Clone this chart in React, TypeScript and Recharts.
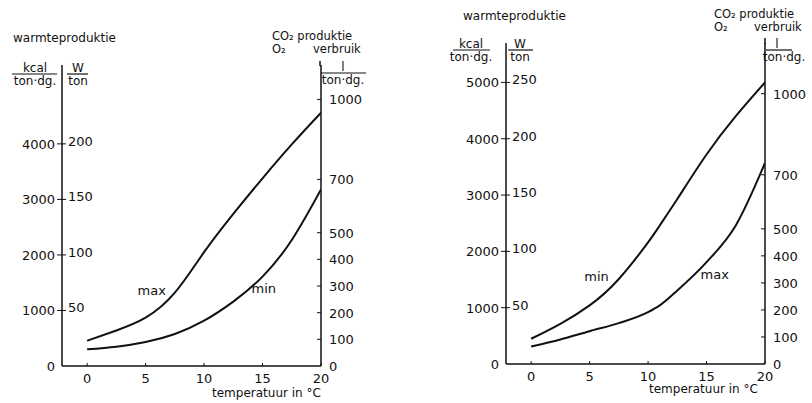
import React from 'react';
import { LineChart, Line, XAxis, YAxis } from 'recharts';

// temperatuur in °C
const tempsLeft = [0, 2.5, 5, 7.5, 10, 12.5, 15, 17.5, 20];
const tempsRight = [0, 2.5, 5, 7.5, 10, 11, 12.5, 15, 17.5, 20];

// warmteproduktie in kcal / ton·dg.
const leftMax = [455, 640, 870, 1320, 2050, 2740, 3380, 3990, 4560];
const leftMin = [300, 348, 432, 577, 817, 1160, 1610, 2270, 3180];
const rightMin = [448, 714, 1040, 1510, 2160, 2460, 2930, 3720, 4400, 5000];
const rightMax = [311, 435, 583, 725, 920, 1040, 1305, 1808, 2460, 3570];

const tempTicks = [0, 5, 10, 15, 20];
const kcalTicksLeft = [0, 1000, 2000, 3000, 4000];
const kcalTicksRight = [0, 1000, 2000, 3000, 4000, 5000];
const literTicks = [0, 100, 200, 300, 400, 500, 700, 1000];

const KCAL_PER_W = 20; // 1 W/ton ~ 20 kcal/ton·dg.
const KCAL_PER_L = 4.8; // 1 l O2 ~ 4.8 kcal

const INK = '#111';
const FONT = '"DejaVu Sans", sans-serif';

const leftData = tempsLeft.map((t, i) => ({ t, hi: leftMax[i], lo: leftMin[i] }));
const rightData = tempsRight.map((t, i) => ({ t, hi: rightMin[i], lo: rightMax[i] }));

const XTick = ({ x, y, payload }: any) => (
  <g>
    <line x1={x} x2={x} y1={y} y2={y - 3} stroke={INK} strokeWidth={1} />
    <text x={x} y={y + 16.5} textAnchor="middle" fontSize={13} fontFamily={FONT} fill={INK}>
      {payload.value}
    </text>
  </g>
);

const KcalTick = ({ x, y, payload }: any) => {
  const v = payload.value;
  return (
    <g>
      {v > 0 && <line x1={x - 5} x2={x + 4} y1={y} y2={y} stroke={INK} strokeWidth={1} />}
      <text x={x - 7} y={y + 5} textAnchor="end" fontSize={13} fontFamily={FONT} fill={INK}>
        {v}
      </text>
      {v > 0 && (
        <text x={x + 6} y={y + 2} textAnchor="start" fontSize={13} fontFamily={FONT} fill={INK}>
          {v / KCAL_PER_W}
        </text>
      )}
    </g>
  );
};

const LiterTick = ({ x, y, payload }: any) => (
  <g>
    {payload.value > 0 && <line x1={x - 4} x2={x} y1={y} y2={y} stroke={INK} strokeWidth={1} />}
    <text x={x + 8} y={y + 5} textAnchor="start" fontSize={13} fontFamily={FONT} fill={INK}>
      {payload.value}
    </text>
  </g>
);

const curveLabel = (idx: number, text: string, dx: number, dy: number, anchor: string) =>
  (p: any) =>
    p.index === idx ? (
      <text
        key={text + idx}
        x={p.x + dx}
        y={p.y + dy}
        textAnchor={anchor}
        fontSize={13}
        fontFamily={FONT}
        fill={INK}
      >
        {text}
      </text>
    ) : null;

type PanelProps = {
  data: any[];
  kcalMax: number;
  kcalTicks: number[];
  margin: { top: number; right: number; bottom: number; left: number };
  hiLabel: any;
  loLabel: any;
  loCurve: 'natural' | 'monotone';
};

// axes are 1px wide/high, margins are trimmed by that pixel
const Panel = ({ data, kcalMax, kcalTicks, margin, hiLabel, loLabel, loCurve }: PanelProps) => (
  <LineChart
    width={406}
    height={403}
    data={data}
    margin={{ top: margin.top, right: margin.right - 1, bottom: margin.bottom - 1, left: margin.left - 1 }}
  >
    <XAxis
      dataKey="t"
      type="number"
      domain={[-2.15, 20]}
      allowDataOverflow
      ticks={tempTicks}
      height={1}
      tickSize={0}
      tickMargin={0}
      tickLine={false}
      tick={<XTick />}
      axisLine={{ stroke: INK, strokeWidth: 1.5 }}
    />
    <YAxis
      yAxisId="k"
      orientation="left"
      type="number"
      domain={[0, kcalMax]}
      allowDataOverflow
      ticks={kcalTicks}
      width={1}
      tickSize={0}
      tickMargin={0}
      tickLine={false}
      tick={<KcalTick />}
      axisLine={{ stroke: INK, strokeWidth: 1.5 }}
    />
    <YAxis
      yAxisId="l"
      orientation="right"
      type="number"
      domain={[0, kcalMax / KCAL_PER_L]}
      allowDataOverflow
      ticks={literTicks}
      width={1}
      tickSize={0}
      tickMargin={0}
      tickLine={false}
      tick={<LiterTick />}
      axisLine={{ stroke: INK, strokeWidth: 1.5 }}
    />
    <Line
      yAxisId="k"
      type="natural"
      dataKey="hi"
      stroke={INK}
      strokeWidth={2}
      dot={false}
      isAnimationActive={false}
      label={hiLabel}
    />
    <Line
      yAxisId="k"
      type={loCurve}
      dataKey="lo"
      stroke={INK}
      strokeWidth={2}
      dot={false}
      isAnimationActive={false}
      label={loLabel}
    />
  </LineChart>
);

const T = (props: any) => (
  <text fontSize={12} fontFamily={FONT} fill={INK} {...props} />
);

const Titles = ({ ox, y0, xKcal, xW, xCO, xVerb, xL, lineL, yUnit, xTemp, yTemp, axisTop }: any) => (
  <g>
    <T x={ox} y={y0}>warmteproduktie</T>
    <T x={xKcal[0]} y={yUnit} textAnchor="middle">kcal</T>
    <line x1={xKcal[1]} x2={xKcal[2]} y1={yUnit + 2} y2={yUnit + 2} stroke={INK} strokeWidth={1.2} />
    <T x={xKcal[0]} y={yUnit + 13} textAnchor="middle">ton·dg.</T>
    <T x={xW[0]} y={yUnit} textAnchor="middle">W</T>
    <line x1={xW[1]} x2={xW[2]} y1={yUnit + 2} y2={yUnit + 2} stroke={INK} strokeWidth={1.2} />
    <T x={xW[0]} y={yUnit + 13} textAnchor="middle">ton</T>
    <T x={xCO} y={y0 - 2} fontSize={11.5}>CO₂ produktie</T>
    <T x={xCO} y={y0 + 11} fontSize={11.5}>O₂</T>
    <T x={xVerb} y={y0 + 11} fontSize={11.5}>verbruik</T>
    {/* right axis runs up past the unit label */}
    <line x1={lineL[0] - 1} x2={lineL[0] - 1} y1={axisTop[0]} y2={axisTop[1]} stroke={INK} strokeWidth={1.5} />
    <T x={xL[0]} y={lineL[2] - 2} textAnchor="middle">l</T>
    <line x1={lineL[0]} x2={lineL[1]} y1={lineL[2]} y2={lineL[2]} stroke={INK} strokeWidth={1.2} />
    <T x={xL[1]} y={lineL[2] + 10.5} textAnchor="middle">ton·dg.</T>
    <T x={xTemp} y={yTemp}>temperatuur in °C</T>
  </g>
);

export default function App() {
  return (
    <div style={{ position: 'absolute', left: 0, top: 0, width: 812, height: 403, background: '#fff' }}>
      <div style={{ position: 'absolute', left: 0, top: 0 }}>
        <Panel
          data={leftData}
          kcalMax={5420}
          kcalTicks={kcalTicksLeft}
          margin={{ top: 65, right: 85, bottom: 37, left: 62 }}
          hiLabel={curveLabel(3, 'max', -9, 2, 'end')}
          loLabel={curveLabel(6, 'min', -11, 16, 'start')}
          loCurve="natural"
        />
      </div>
      <div style={{ position: 'absolute', left: 406, top: 0 }}>
        <Panel
          data={rightData}
          kcalMax={5700}
          kcalTicks={kcalTicksRight}
          margin={{ top: 43, right: 47, bottom: 39, left: 100 }}
          hiLabel={curveLabel(3, 'min', -10, 2, 'end')}
          loLabel={curveLabel(7, 'max', -6, 17, 'start')}
          loCurve="monotone"
        />
      </div>
      <svg
        width={812}
        height={403}
        style={{ position: 'absolute', left: 0, top: 0, pointerEvents: 'none' }}
      >
        <Titles
          ox={13}
          y0={42}
          xKcal={[35, 12, 57]}
          xW={[78, 67, 88]}
          xCO={272}
          xVerb={313}
          xL={[343, 343]}
          lineL={[321, 366, 73]}
          axisTop={[61, 66]}
          yUnit={72}
          xTemp={212}
          yTemp={397}
        />
        <Titles
          ox={463}
          y0={20}
          xKcal={[471, 453, 490]}
          xW={[520, 508, 533]}
          xCO={714}
          xVerb={754}
          xL={[777, 784]}
          lineL={[766, 792, 50]}
          axisTop={[38, 44]}
          yUnit={48}
          xTemp={649}
          yTemp={393}
        />
      </svg>
    </div>
  );
}
